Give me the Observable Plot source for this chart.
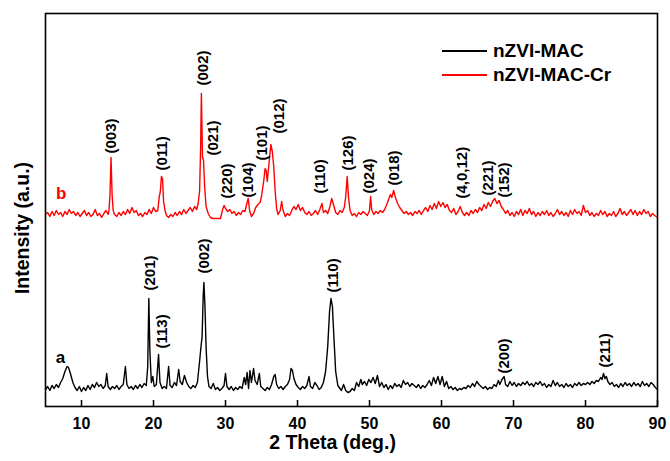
<!DOCTYPE html>
<html>
<head>
<meta charset="utf-8">
<script src="https://cdn.jsdelivr.net/npm/d3@7"></script>
<script src="https://cdn.jsdelivr.net/npm/@observablehq/plot@0.6"></script>
<style>
  html, body { margin: 0; padding: 0; background: #fff; }
  #wrap { position: relative; width: 670px; height: 461px; font-family: "Liberation Sans", Arial, sans-serif; }
  #legend { position: absolute; left: 442px; top: 39px; font-weight: bold; font-size: 19px; line-height: 24px; }
  #legend .row { display: flex; align-items: center; }
  #legend .sw { width: 45px; height: 0; margin-right: 6px; }
</style>
</head>
<body>
<div id="wrap"><div id="legend"></div></div>
<script>
// Series names and colours
const seriesNames = ["nZVI-MAC", "nZVI-MAC-Cr"];
const seriesColors = ["#000000", "#ff0000"];

// nZVI-MAC (curve a): 2θ and intensity (a.u., offset)
const theta_a = [5.0,5.3,5.6,5.9,6.2,6.5,6.8,7.1,7.4,7.7,8.0,8.2,8.5,8.8,9.1,9.4,9.7,10.0,10.3,10.6,10.9,11.2,11.5,11.8,12.1,12.4,12.7,13.0,13.3,13.5,13.7,14.0,14.3,14.6,14.9,15.2,15.5,15.8,16.1,16.3,16.6,16.9,17.2,17.5,17.8,18.1,18.4,18.7,19.0,19.2,19.35,19.5,19.7,19.9,20.1,20.4,20.7,20.9,21.2,21.5,21.8,22.1,22.3,22.6,22.9,23.2,23.5,23.7,24.0,24.3,24.6,24.9,25.2,25.5,25.8,26.1,26.4,26.6,26.75,26.9,27.0,27.15,27.3,27.5,27.7,28.0,28.3,28.6,28.9,29.2,29.5,29.8,30.0,30.2,30.5,30.8,31.1,31.4,31.7,32.0,32.3,32.6,32.8,33.0,33.2,33.4,33.6,33.9,34.1,34.4,34.7,34.9,35.2,35.5,35.8,36.1,36.4,36.7,36.9,37.1,37.4,37.7,38.0,38.3,38.6,38.9,39.1,39.3,39.5,39.8,40.1,40.4,40.7,41.0,41.3,41.6,41.8,42.1,42.4,42.7,43.0,43.3,43.6,43.9,44.2,44.45,44.65,44.85,45.05,45.3,45.6,45.9,46.1,46.4,46.7,47.0,47.3,47.6,47.9,48.2,48.5,48.8,49.0,49.3,49.6,49.9,50.2,50.5,50.8,51.1,51.4,51.7,52.0,52.3,52.6,52.9,53.2,53.5,53.8,54.1,54.4,54.7,55.0,55.3,55.6,55.9,56.2,56.5,56.8,57.1,57.4,57.7,58.0,58.3,58.6,58.9,59.2,59.5,59.8,60.1,60.4,60.7,61.0,61.3,61.6,61.9,62.2,62.5,62.8,63.1,63.4,63.7,64.0,64.3,64.6,64.9,65.2,65.5,65.8,66.1,66.4,66.7,67.0,67.3,67.6,67.9,68.1,68.4,68.7,68.9,69.2,69.5,69.8,70.1,70.4,70.7,71.0,71.3,71.6,71.9,72.2,72.5,72.8,73.1,73.4,73.7,74.0,74.3,74.6,74.9,75.2,75.5,75.8,76.1,76.4,76.7,77.0,77.3,77.6,77.9,78.2,78.5,78.8,79.1,79.4,79.7,80.0,80.3,80.6,80.9,81.2,81.5,81.8,82.1,82.3,82.5,82.7,82.9,83.1,83.4,83.7,84.0,84.3,84.6,84.9,85.2,85.5,85.8,86.1,86.4,86.7,87.0,87.3,87.6,87.9,88.2,88.5,88.8,89.1,89.4,89.7,90.0];
const intensity_a = [17,20,16,21,18,22,19,24,28,35,40,39,32,24,19,16,20,15,19,16,21,17,22,19,24,20,22,18,21,33,20,17,20,18,21,17,20,22,40,22,18,20,17,21,18,22,19,23,21,40,108,55,24,30,20,22,52,24,18,20,18,40,21,19,24,21,37,25,22,31,24,20,18,21,19,24,45,60,70,110,124,100,60,30,20,18,23,17,19,16,18,21,33,20,17,20,16,19,17,20,18,29,22,34,18,36,24,38,26,22,33,20,18,16,19,17,22,30,32,22,18,20,17,20,22,27,38,36,28,22,19,17,20,18,21,30,20,18,24,21,17,19,24,35,60,95,108,100,70,35,21,18,16,22,16,14,15,18,16,24,20,27,22,25,21,27,24,29,23,31,20,24,19,22,17,21,18,23,20,22,19,26,22,24,20,23,21,19,22,18,21,19,22,26,21,29,23,30,22,30,20,25,18,20,17,19,16,18,17,19,18,21,19,23,20,25,22,20,18,20,17,19,18,22,20,26,22,27,30,22,20,25,21,24,20,23,21,24,22,25,21,23,20,24,22,25,21,23,19,22,20,26,21,24,20,22,19,23,20,22,19,23,21,24,21,23,22,24,22,25,23,26,25,29,27,33,28,30,25,22,24,20,22,19,23,20,24,21,23,20,24,21,23,20,25,21,23,20,24,22,19,17];

// nZVI-MAC-Cr (curve b)
const theta_b = [5.0,5.3,5.6,5.9,6.2,6.5,6.8,7.1,7.4,7.7,8.0,8.3,8.6,8.9,9.2,9.5,9.8,10.1,10.4,10.7,11.0,11.3,11.6,11.9,12.2,12.5,12.8,13.1,13.4,13.7,13.8,13.95,14.1,14.25,14.4,14.6,14.9,15.2,15.5,15.8,16.1,16.4,16.7,17.0,17.3,17.6,17.9,18.2,18.5,18.8,19.1,19.4,19.7,20.0,20.3,20.6,20.8,20.95,21.1,21.25,21.4,21.6,21.8,22.1,22.4,22.7,23.0,23.3,23.6,23.9,24.2,24.5,24.8,25.1,25.4,25.7,26.0,26.2,26.4,26.55,26.65,26.8,26.95,27.1,27.3,27.6,27.9,28.3,28.8,29.3,29.6,29.8,30.0,30.3,30.6,30.9,31.2,31.5,31.8,32.1,32.4,32.7,33.0,33.15,33.35,33.6,33.9,34.2,34.5,34.8,35.0,35.3,35.5,35.65,35.8,36.0,36.3,36.5,36.7,36.9,37.1,37.3,37.6,37.8,38.0,38.3,38.6,38.9,39.2,39.5,39.8,40.1,40.4,40.7,41.0,41.3,41.6,41.9,42.2,42.5,42.8,43.1,43.4,43.6,43.9,44.2,44.5,44.75,45.0,45.3,45.6,45.9,46.2,46.5,46.7,46.9,47.1,47.3,47.6,47.9,48.2,48.5,48.8,49.1,49.4,49.7,50.0,50.15,50.3,50.6,50.9,51.2,51.5,51.8,52.1,52.4,52.7,52.9,53.1,53.35,53.6,53.9,54.2,54.5,54.8,55.1,55.4,55.7,56.0,56.3,56.6,56.9,57.2,57.5,57.8,58.1,58.4,58.7,59.0,59.3,59.6,59.9,60.2,60.5,60.8,61.1,61.4,61.7,62.0,62.3,62.6,62.9,63.2,63.5,63.8,64.1,64.4,64.7,65.0,65.3,65.6,65.9,66.2,66.5,66.8,67.1,67.4,67.7,68.0,68.3,68.6,68.9,69.2,69.5,69.8,70.1,70.4,70.7,71.0,71.3,71.6,71.9,72.2,72.5,72.8,73.1,73.4,73.7,74.0,74.3,74.6,74.9,75.2,75.5,75.8,76.1,76.4,76.7,77.0,77.3,77.6,77.9,78.2,78.5,78.8,79.1,79.4,79.7,80.0,80.3,80.6,80.9,81.2,81.5,81.8,82.1,82.4,82.7,83.0,83.3,83.6,83.9,84.2,84.5,84.8,85.1,85.4,85.7,86.0,86.3,86.6,86.9,87.2,87.5,87.8,88.1,88.4,88.7,89.0,89.3,89.6,90.0];
const intensity_b = [192,194,190,195,191,196,192,194,190,195,192,197,193,195,191,194,190,193,196,191,194,190,192,197,191,193,189,193,196,192,195,210,249,212,196,192,190,194,191,195,192,197,193,199,194,196,191,193,190,194,192,197,193,199,195,196,210,215,230,228,205,196,191,189,192,190,194,191,195,192,197,193,196,199,195,200,197,203,215,260,313,250,246,220,200,193,189,188,188,188,197,201,198,195,197,193,195,191,194,192,196,195,204,208,196,190,193,199,202,204,210,225,238,236,225,240,262,255,240,215,198,192,196,205,196,190,193,191,196,200,197,202,196,199,194,192,195,191,193,196,192,197,203,194,196,193,200,208,202,194,192,196,194,199,210,230,208,196,191,193,190,194,192,195,193,191,196,210,197,192,195,193,196,194,197,202,208,212,209,216,209,203,199,196,193,195,192,194,191,195,193,196,192,196,199,195,201,197,203,198,205,200,204,199,202,196,194,198,192,195,200,194,191,194,191,196,193,197,194,199,196,202,198,204,200,205,208,203,206,200,197,193,196,191,194,190,195,192,197,191,196,193,198,192,195,190,194,191,195,192,196,191,194,190,193,197,192,195,191,194,190,196,192,197,193,195,191,201,194,196,191,194,190,193,191,196,192,195,190,193,191,195,190,193,198,192,195,191,194,197,192,196,191,195,192,197,193,195,190,193,191,189];

// x-axis ticks
const xTicks = [10, 20, 30, 40, 50, 60, 70, 80, 90];

// Peak labels (Miller indices) for each curve: text, 2θ, intensity at label start
const peakText_b = ["(003)","(011)","(002)","(021)","(220)","(104)","(101)","(012)","(110)","(126)","(024)","(018)","(4,0,12)","(221)","(152)"];
const peakX_b    = [14.17, 21.2, 26.94, 28.3, 30.2, 33.15, 35.1, 37.46, 43.2, 47.1, 50.0, 53.4, 62.9, 66.5, 68.75];
const peakY_b    = [253, 236, 321, 251, 208, 209, 246, 273, 213, 236, 213, 221, 208, 211, 209];

const peakText_a = ["(201)","(113)","(002)","(110)","(200)","(211)"];
const peakX_a    = [19.6, 21.2, 27.1, 44.96, 68.75, 82.8];
const peakY_a    = [116, 58, 133, 114, 33, 39];

// Curve tags
const curveTag = ["a", "b"];
const curveTagX = [7.08, 7.18];
const curveTagY = [49, 213];

const dataA = theta_a.map((t, i) => ({x: t, y: intensity_a[i]}));
const dataB = theta_b.map((t, i) => ({x: t, y: intensity_b[i]}));
const peaks = [
  ...peakText_b.map((t, i) => ({t, x: peakX_b[i], y: peakY_b[i]})),
  ...peakText_a.map((t, i) => ({t, x: peakX_a[i], y: peakY_a[i]}))
];
const tags = curveTag.map((t, i) => ({t, x: curveTagX[i], y: curveTagY[i], c: seriesColors[i]}));

const font = "'Liberation Sans', Arial, sans-serif";

const chart = Plot.plot({
  width: 670,
  height: 461,
  marginLeft: 45,
  marginRight: 13,
  marginTop: 13,
  marginBottom: 55,
  style: {fontFamily: font, background: "#fff", overflow: "visible"},
  x: {domain: [5, 90]},
  y: {domain: [0, 393]},
  marks: [
    Plot.line(dataA, {x: "x", y: "y", stroke: seriesColors[0], strokeWidth: 1.4}),
    Plot.line(dataB, {x: "x", y: "y", stroke: seriesColors[1], strokeWidth: 1.4}),
    Plot.text(peaks, {x: "x", y: "y", text: "t", rotate: -90, textAnchor: "start", fontSize: 15, fontWeight: "bold", fill: "#000"}),
    Plot.text(tags, {x: "x", y: "y", text: "t", fill: "c", fontSize: 17, fontWeight: "bold"}),
    Plot.ruleX(xTicks, {x: d => d, y1: 0, y2: 6, stroke: "#000", strokeWidth: 1.5}),
    Plot.axisX({ticks: xTicks, tickSize: 0, tickPadding: 11, fontSize: 16, fontWeight: "bold", label: null, tickFormat: d => d}),
    Plot.axisY({ticks: [], label: null}),
    Plot.text(["2 Theta (deg.)"], {frameAnchor: "bottom", dx: -19, dy: 42, text: d => d, fontSize: 19.5, fontWeight: "bold", fill: "#000"}),
    Plot.text(["Intensity (a.u.)"], {frameAnchor: "left", textAnchor: "middle", dx: -23, dy: 18, rotate: -90, text: d => d, fontSize: 19.5, fontWeight: "bold", fill: "#000"}),
    Plot.frame({stroke: "#000", strokeWidth: 1.6})
  ]
});
chart.style.position = "absolute";
chart.style.left = "0";
chart.style.top = "0";
const wrap = document.getElementById("wrap");
wrap.insertBefore(chart, wrap.firstChild);

const legend = document.getElementById("legend");
seriesNames.forEach((n, i) => {
  const row = document.createElement("div");
  row.className = "row";
  const sw = document.createElement("span");
  sw.className = "sw";
  sw.style.borderTop = `2px solid ${seriesColors[i]}`;
  const lab = document.createElement("span");
  lab.textContent = n;
  row.appendChild(sw);
  row.appendChild(lab);
  legend.appendChild(row);
});
</script>
</body>
</html>
